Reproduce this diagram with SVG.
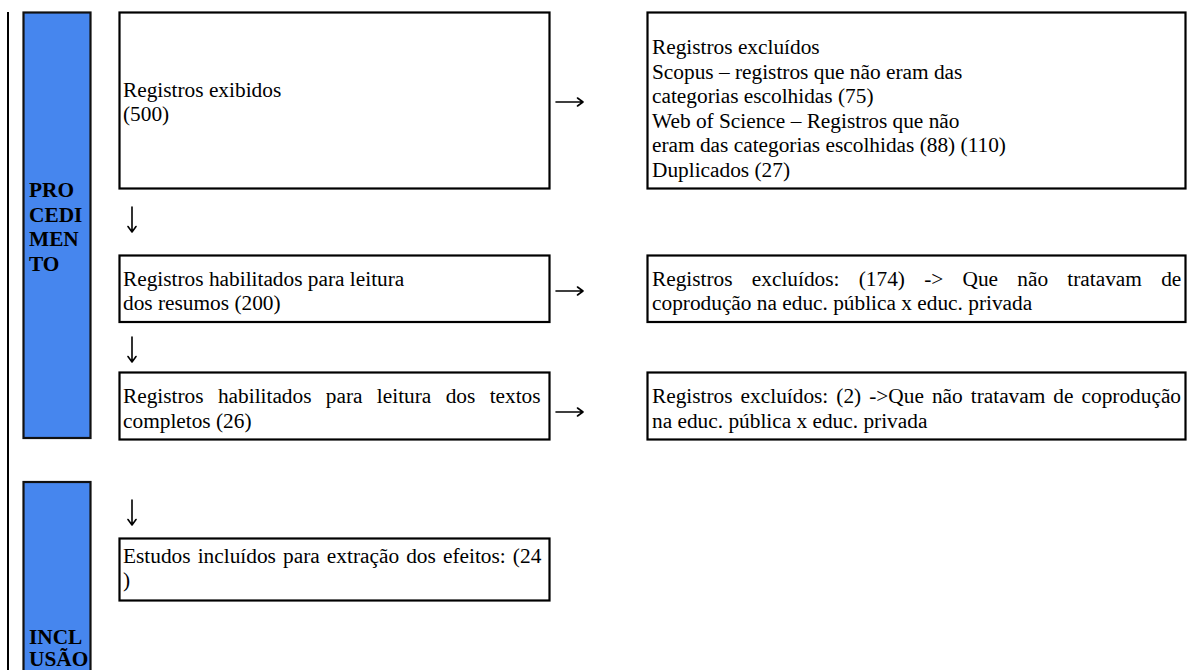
<svg xmlns="http://www.w3.org/2000/svg" width="1203" height="670" viewBox="0 0 1203 670">
  <style>
    .box { fill: #ffffff; stroke: #000000; stroke-width: 2.2; }
    .band { fill: #4686ee; stroke: #111111; stroke-width: 2.2; }
    .t { font-family: "Liberation Serif", "Times New Roman", serif; font-size: 21.33px; fill: #000000; }
    .b { font-family: "Liberation Serif", "Times New Roman", serif; font-size: 21.33px; font-weight: bold; fill: #000000; }
    .arr { fill: none; stroke: #000000; stroke-width: 1.6; stroke-linecap: round; stroke-linejoin: round; }
  </style>
  <rect x="0" y="0" width="1203" height="670" fill="#ffffff"/>

  <g id="frame">
    <line x1="8" y1="12" x2="8" y2="670" stroke="#000000" stroke-width="2"/>
  </g>

  <g id="band-procedimento">
    <rect class="band" x="23.5" y="12.5" width="67" height="425.5"/>
    <text class="b" x="29" y="197">PRO</text>
    <text class="b" x="29" y="221.5">CEDI</text>
    <text class="b" x="29" y="246">MEN</text>
    <text class="b" x="29" y="270.5">TO</text>
  </g>

  <g id="band-inclusao">
    <rect class="band" x="23.5" y="482" width="67" height="200"/>
    <text class="b" x="29" y="644">INCL</text>
    <text class="b" x="29" y="666">USÃO</text>
  </g>

  <g id="node-exibidos">
    <rect class="box" x="119.5" y="12.5" width="430" height="176"/>
    <text class="t" x="123" y="97">Registros exibidos</text>
    <text class="t" x="123" y="121">(500)</text>
  </g>

  <g id="node-excluidos-1">
    <rect class="box" x="647.5" y="12.5" width="538" height="176"/>
    <text class="t" x="652" y="54">Registros excluídos</text>
    <text class="t" x="652" y="78.5">Scopus – registros que não eram das</text>
    <text class="t" x="652" y="103">categorias escolhidas (75)</text>
    <text class="t" x="652" y="127.5">Web of Science – Registros que não</text>
    <text class="t" x="652" y="152">eram das categorias escolhidas (88) (110)</text>
    <text class="t" x="652" y="176.5">Duplicados (27)</text>
  </g>

  <g id="node-resumos">
    <rect class="box" x="119.5" y="255.5" width="430" height="66.5"/>
    <text class="t" x="123" y="286">Registros habilitados para leitura</text>
    <text class="t" x="123" y="310">dos resumos (200)</text>
  </g>

  <g id="node-excluidos-2">
    <rect class="box" x="647.5" y="255.5" width="538" height="66.5"/>
    <text class="t" x="652" y="286" word-spacing="13.9">Registros excluídos: (174) -&gt; Que não tratavam de</text>
    <text class="t" x="652" y="310">coprodução na educ. pública x educ. privada</text>
  </g>

  <g id="node-completos">
    <rect class="box" x="119.5" y="372.5" width="430" height="67"/>
    <text class="t" x="123" y="403" word-spacing="9">Registros habilitados para leitura dos textos</text>
    <text class="t" x="123" y="427.5">completos (26)</text>
  </g>

  <g id="node-excluidos-3">
    <rect class="box" x="647.5" y="372.5" width="538" height="67"/>
    <text class="t" x="652" y="403" word-spacing="2.7">Registros excluídos: (2) -&gt;Que não tratavam de coprodução</text>
    <text class="t" x="652" y="427.5">na educ. pública x educ. privada</text>
  </g>

  <g id="node-incluidos">
    <rect class="box" x="119.5" y="538.5" width="430" height="62"/>
    <text class="t" x="123" y="563" word-spacing="1.8">Estudos incluídos para extração dos efeitos: (24</text>
    <text class="t" x="123" y="587">)</text>
  </g>

  <g id="connectors">
    <path class="arr" d="M556,102 H583 M577.5,98 L583,102 L577.5,106"/>
    <path class="arr" d="M556,291 H583 M577.5,287 L583,291 L577.5,295"/>
    <path class="arr" d="M556,412 H583 M577.5,408 L583,412 L577.5,416"/>
    <path class="arr" d="M132,207 V232 M128,226.5 L132,232 L136,226.5"/>
    <path class="arr" d="M132,337 V362 M128,356.5 L132,362 L136,356.5"/>
    <path class="arr" d="M132,500 V525 M128,519.5 L132,525 L136,519.5"/>
  </g>
</svg>
